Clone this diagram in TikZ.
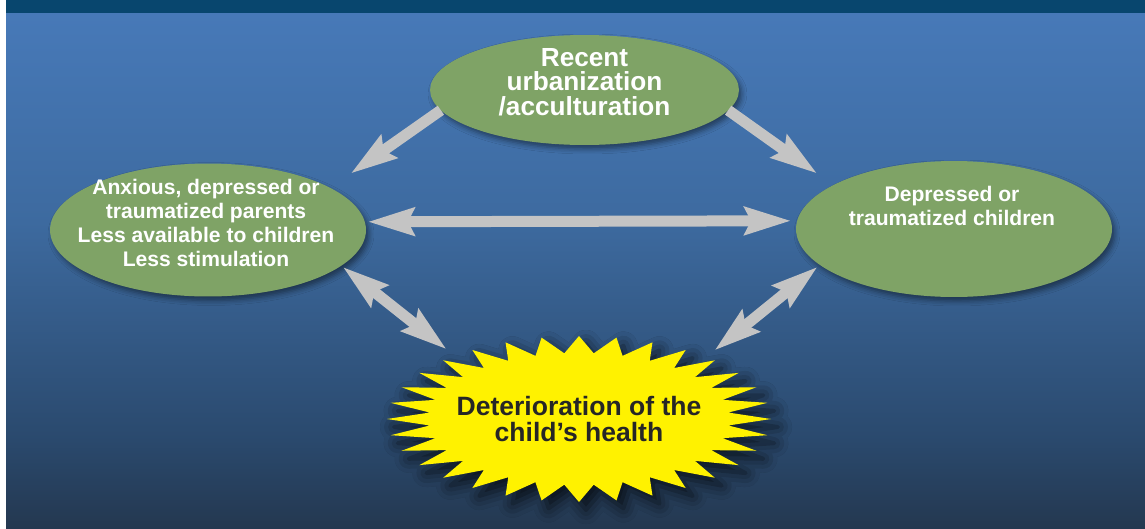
\documentclass[tikz,border=0pt]{standalone}
\usepackage{fontspec}
\setmainfont{Liberation Sans}
\usetikzlibrary{arrows.meta,calc,shapes.geometric,shadows.blur}
\definecolor{barblue}{HTML}{08466E}
\definecolor{bgtop}{HTML}{4779B8}
\definecolor{bgmid}{HTML}{3D6A9F}
\definecolor{bglow}{HTML}{2A496D}
\definecolor{bgbottom}{HTML}{243850}
\definecolor{leaf}{HTML}{7FA366}
\definecolor{arrowgrey}{HTML}{C4C4C4}
\definecolor{burstyellow}{HTML}{FFF200}
\definecolor{inkgrey}{HTML}{262626}
\tikzset{
  bigtip/.tip={Stealth[length=0.92cm,width=0.54cm,inset=0.12cm]},
  blob/.style={ellipse, fill=leaf, inner sep=0pt, outer sep=0pt,
    blur shadow={shadow xshift=0.06cm, shadow yshift=-0.08cm, shadow blur radius=0.1cm, shadow opacity=45}},
  blobtext/.style={text=white, font=\bfseries\fontsize{12}{13.6}\selectfont, align=center, inner sep=0pt},
  fatarrow/.style={draw=arrowgrey, line width=0.22cm}
}

\begin{document}
\begin{tikzpicture}[x=0.02cm, y=-0.02cm]
  %%%%% BACKDROP %%%%%
  \useasboundingbox (0,0) rectangle (1145,528);
  \fill[white] (0,0) rectangle (1145,528);
  \shade[top color=bgtop, bottom color=bgmid] (6,13) rectangle (1145,223);
  \shade[top color=bgmid, bottom color=bglow] (6,222) rectangle (1145,441);
  \shade[top color=bglow, bottom color=bgbottom] (6,440) rectangle (1145,528);
  \fill[barblue] (6,0) rectangle (1145,13);

  %%%%% ELLIPSES %%%%%
  \node[blob, minimum width=6.18cm, minimum height=2.2cm] (urban) at (584.5,90) {};
  \node[blob, minimum width=6.32cm, minimum height=2.66cm] (parents) at (208,230) {};
  \node[blob, minimum width=6.32cm, minimum height=2.72cm] (children) at (954,229) {};

  \node[blobtext, font=\bfseries\fontsize{14.9}{13.9}\selectfont] (urbantext) at ($(urban)+(0,-8)$) {Recent\\urbanization\\/acculturation};
  \node[blobtext] (parentstext) at ($(parents)+(-2,-7)$) {Anxious, depressed or\\traumatized parents\\Less available to children\\Less stimulation};
  \node[blobtext] (childrentext) at ($(children)+(-2,-23)$) {Depressed or\\traumatized children};

  %%%%% STARBURST %%%%%
  \coordinate (burst) at (579,419);
  \fill[burstyellow, shift={(burst)},
    blur shadow={shadow xshift=0.14cm, shadow yshift=-0.16cm, shadow blur radius=0.28cm, shadow opacity=75}]
    (0:192 and 83) \foreach \k in {1,...,32}{ -- ({\k*11.25-5.625}:150 and 66) -- ({\k*11.25}:192 and 83)} -- cycle;
  \node[ellipse, inner sep=0pt, minimum width=7.68cm, minimum height=3.32cm, text=inkgrey,
    font=\bfseries\fontsize{15.1}{14.7}\selectfont, align=center] (health) at (burst) {Deterioration of the\\child’s health};

  %%%%% ARROWS %%%%%
  \draw[fatarrow, -bigtip, shorten >=0.5cm] (urban.188) -- (parents.19);
  \draw[fatarrow, -bigtip, shorten >=0.4cm] (urban.352) -- (children.160);
  \draw[fatarrow, bigtip-bigtip, shorten <=0.06cm, shorten >=0.12cm] (parents.3) -- (children.177.4);
  \draw[fatarrow, bigtip-bigtip, shorten <=0.04cm, shorten >=0.2cm] (parents.345) -- (health.153);
  \draw[fatarrow, bigtip-bigtip, shorten <=0.06cm, shorten >=0.2cm] (children.195) -- (health.26);
\end{tikzpicture}
\end{document}
